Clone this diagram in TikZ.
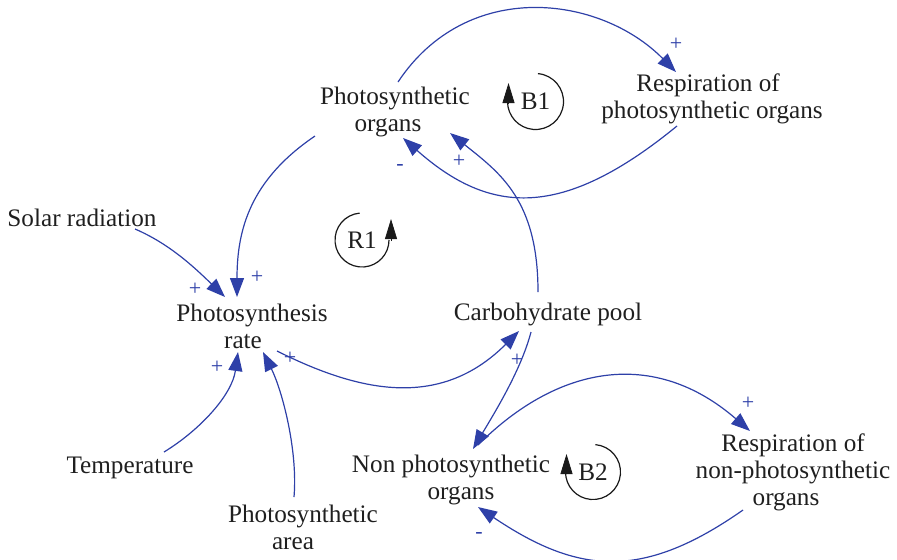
\documentclass[tikz,border=0pt]{standalone}
\usepackage{fontspec}
\setmainfont{Liberation Serif}
\usetikzlibrary{arrows.meta}
\definecolor{linkblue}{RGB}{46,64,168}
\begin{document}
\begin{tikzpicture}[x=0.5pt,y=-0.5pt,
  var/.style={align=center, font=\fontsize{12.6}{13.5}\selectfont, text=black!88, inner sep=0pt},
  link/.style={color=linkblue, line width=0.6pt, -{Triangle[length=9.5pt,width=7pt]}},
  sign/.style={text=linkblue, font=\fontsize{11}{11}\selectfont, inner sep=0pt},
  loopline/.style={line width=0.6pt, black!90},
  looptip/.style={black!90, -{Triangle[length=10pt,width=6pt]}},
  looplabel/.style={font=\fontsize{12.6}{13.5}\selectfont, text=black!88, inner sep=0pt}]
\useasboundingbox (0,0) rectangle (897,559);

% variables
\node[var] (po)   at (395,112) {Photosynthetic\\organs\hspace*{7pt}};
\node[var] (rpo)  at (712,99)  {Respiration of\hspace*{4pt}\\photosynthetic organs};
\node[var] (sol)  at (82,218)  {Solar radiation};
\node[var] (rate) at (252,326) {Photosynthesis\\rate\hspace*{9pt}};
\node[var] (carb) at (548,314) {Carbohydrate pool};
\node[var] (temp) at (130,468) {Temperature};
\node[var] (area) at (303,527) {Photosynthetic\\area\hspace*{10pt}};
\node[var] (npo)  at (451,480) {Non photosynthetic\\\hspace*{10pt}organs};
\node[var] (rnpo) at (793,472) {Respiration of\\non-photosynthetic\\organs\hspace*{7pt}};

% causal links
\draw[link] ([shift={(3,-30)}]po.center) .. controls (467,-22) and (600,-5) .. ([shift={(-36,-27)}]rpo.center);
\draw[link] ([shift={(-35,27)}]rpo.center) .. controls (562,220) and (490,215) .. ([shift={(8,26)}]po.center);
\draw[link] ([shift={(-80,24)}]po.center) .. controls (250,180) and (237,230) .. ([shift={(-15,-29)}]rate.center);
\draw[link] ([shift={(53,11)}]sol.center) .. controls (170,244) and (195,268) .. ([shift={(-27,-29)}]rate.center);
\draw[link] ([shift={(-10,-22)}]carb.center) .. controls (538,200) and (500,173) .. ([shift={(55,21)}]po.center);
\draw[link] ([shift={(-17,18)}]carb.center) .. controls (521,370) and (495,412) .. ([shift={(22,-31)}]npo.center);
\draw[link] ([shift={(25,25)}]rate.center) .. controls (357,391) and (439,411) .. ([shift={(-29,17)}]carb.center);
\draw[link] ([shift={(34,-16)}]temp.center) .. controls (200,430) and (232,395) .. ([shift={(-14,26)}]rate.center);
\draw[link] ([shift={(-9,-30)}]area.center) .. controls (298,450) and (282,390) .. ([shift={(11,26)}]rate.center);
\draw[link] ([shift={(27,-35)}]npo.center) .. controls (558,365) and (654,348) .. ([shift={(-43,-41)}]rnpo.center);
\draw[link] ([shift={(-50,38)}]rnpo.center) .. controls (643,580) and (579,575) .. ([shift={(27,27)}]npo.center);

% polarities
\node[sign] (s1)  at (676,44)  {+};
\node[sign] (s2)  at (400,167) {-};
\node[sign] (s3)  at (459,161) {+};
\node[sign] (s4)  at (195,289) {+};
\node[sign] (s5)  at (257,277) {+};
\node[sign] (s6)  at (217,367) {+};
\node[sign] (s7)  at (290,358) {+};
\node[sign] (s8)  at (517,360) {+};
\node[sign] (s9)  at (748,403) {+};
\node[sign] (s10) at (479,535) {-};

% loop markers
\begin{scope}[shift={(362,240)}, yscale=-1]
  \draw[loopline] (95:27) arc[start angle=95, end angle=360, radius=27];
  \draw[looptip] (29,-1) -- (29,21);
  \node[looplabel] (r1) at (0,0) {R1};
\end{scope}
\begin{scope}[shift={(535.5,101.5)}, yscale=-1]
  \draw[loopline] (85:28) arc[start angle=85, end angle=-180, radius=28];
  \draw[looptip] (-27,-1.5) -- (-27,18.5);
  \node[looplabel] (b1) at (0,0) {B1};
\end{scope}
\begin{scope}[shift={(593,472)}, yscale=-1]
  \draw[loopline] (85:27.5) arc[start angle=85, end angle=-180, radius=27.5];
  \draw[looptip] (-26.5,-1) -- (-26.5,18);
  \node[looplabel] (b2) at (0,0) {B2};
\end{scope}
\end{tikzpicture}
\end{document}
